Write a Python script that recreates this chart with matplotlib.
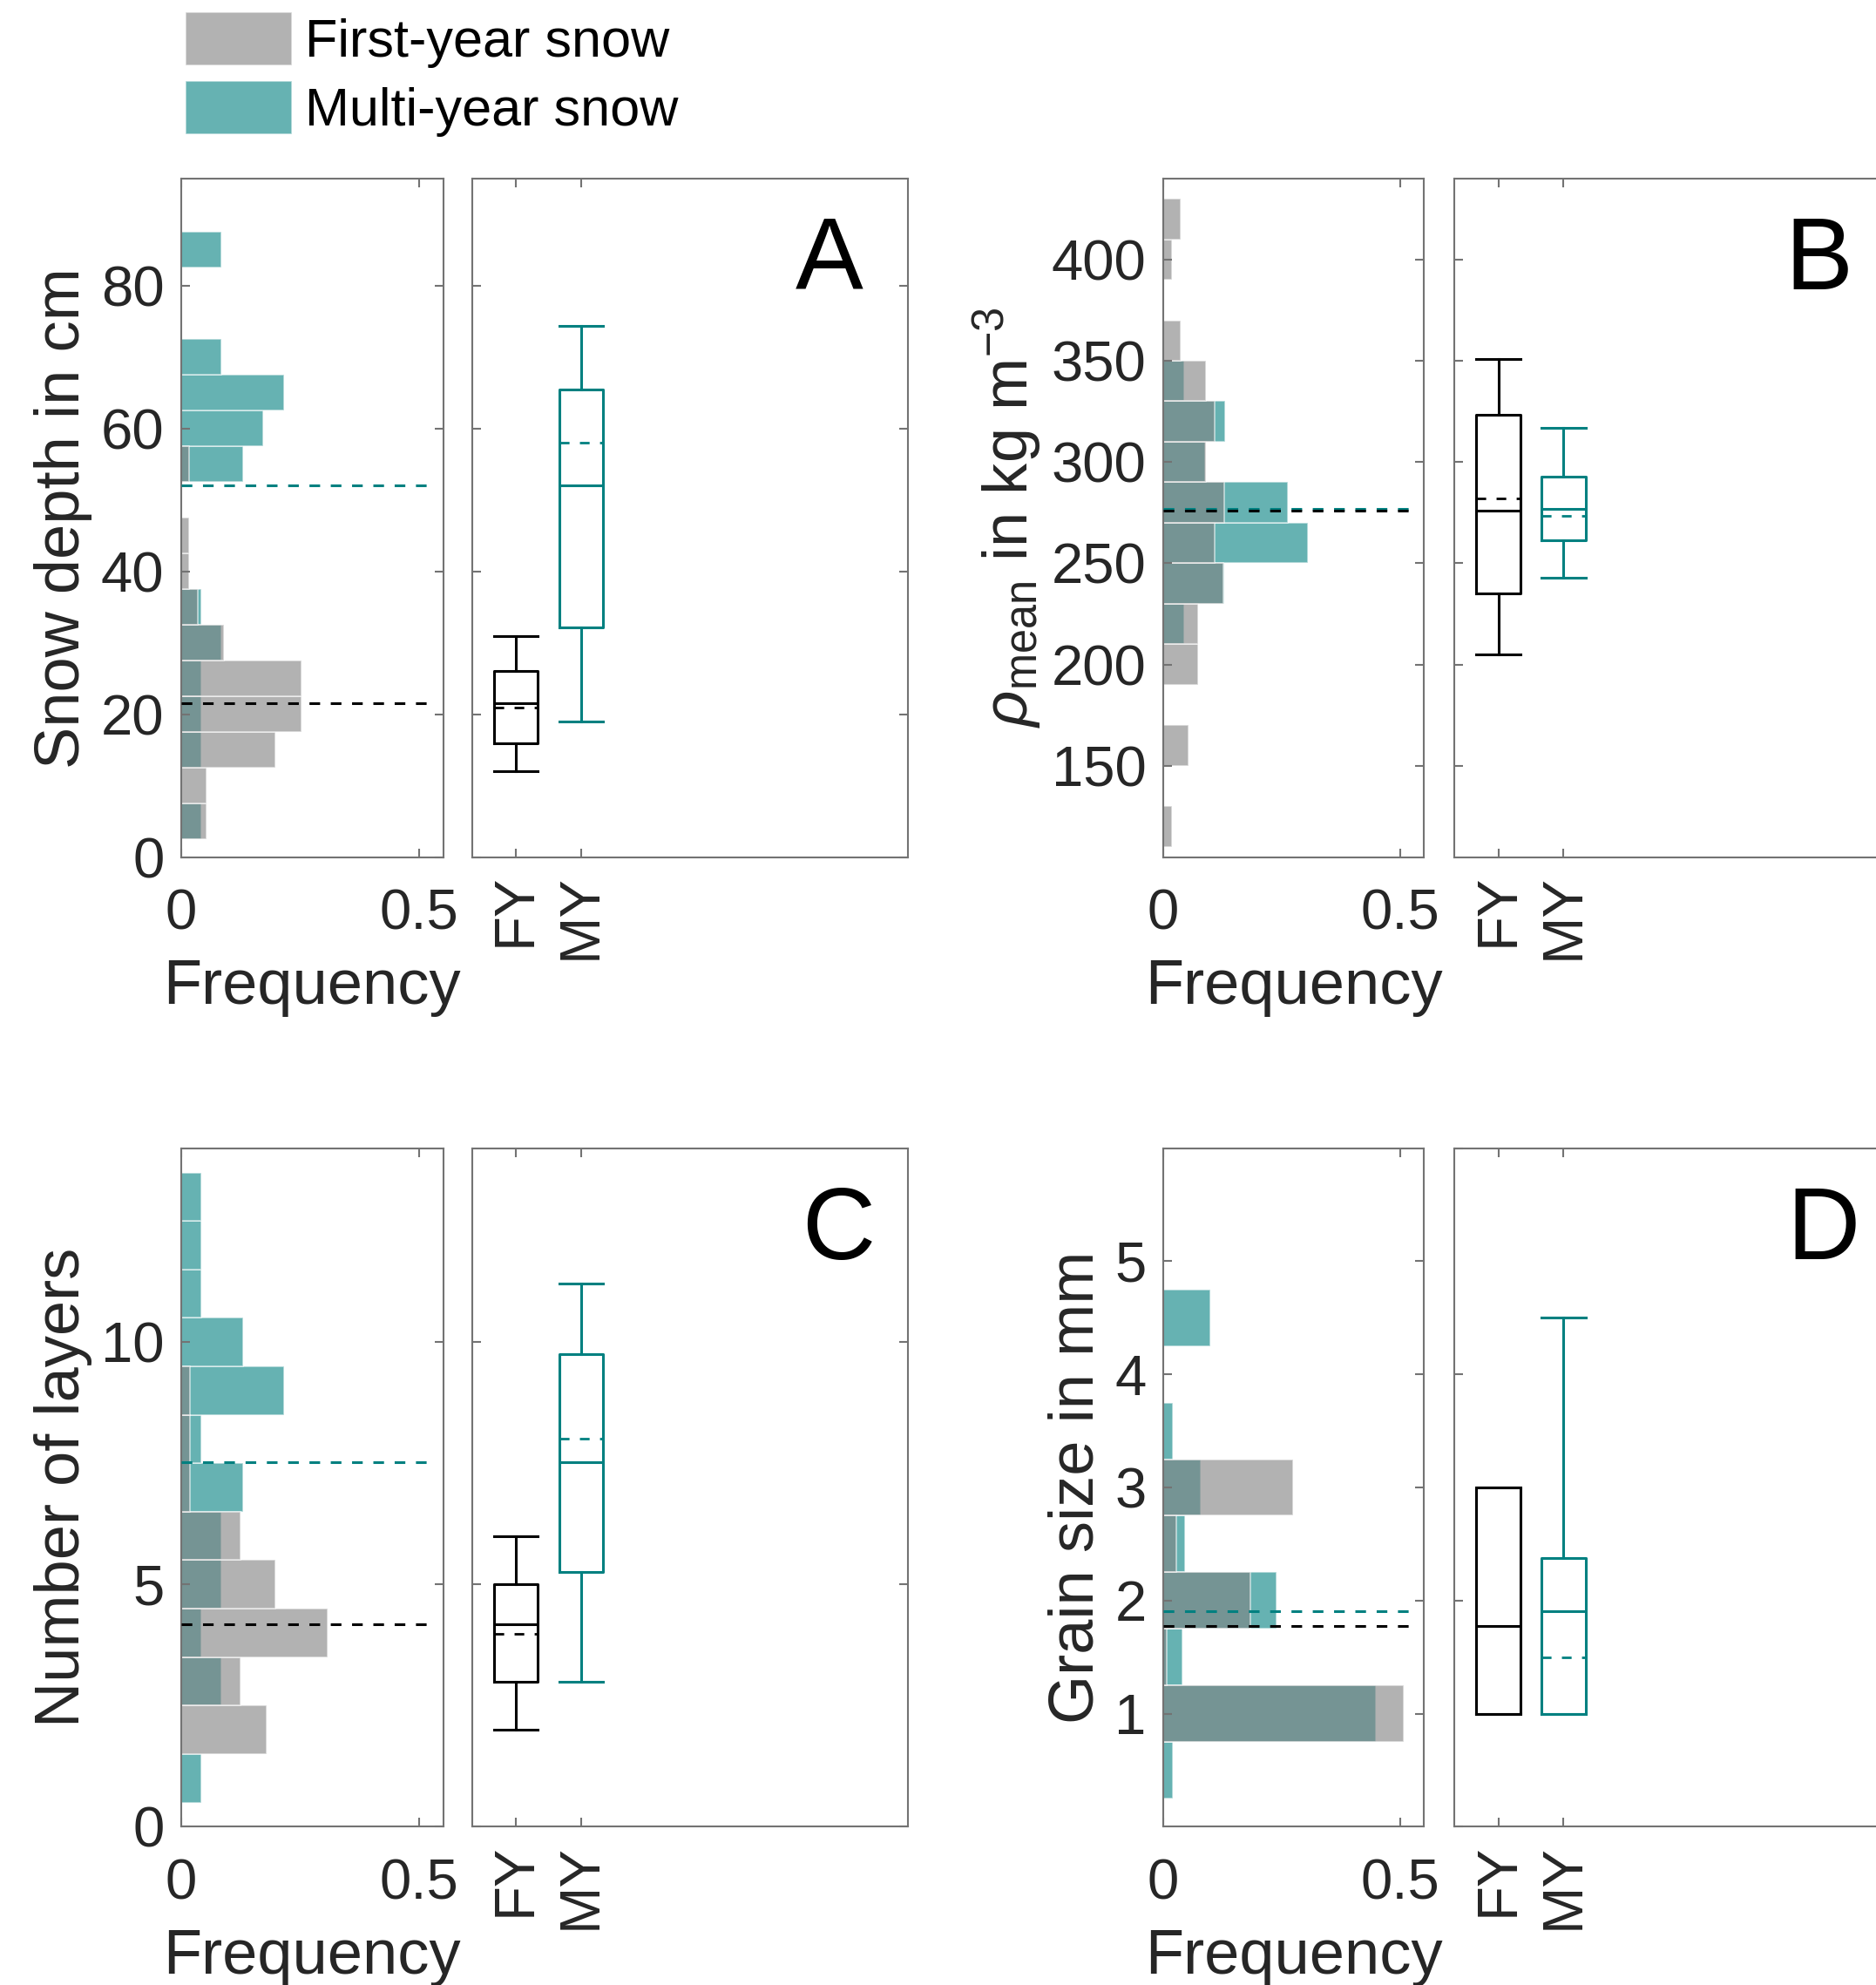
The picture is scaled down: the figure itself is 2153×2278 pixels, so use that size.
import matplotlib
matplotlib.use("Agg")
import matplotlib.pyplot as plt
import numpy as np

plt.rcParams['font.family'] = ['Liberation Sans', 'DejaVu Sans']
plt.rcParams['mathtext.fontset'] = 'custom'
plt.rcParams['mathtext.rm'] = 'Liberation Sans'
plt.rcParams['mathtext.it'] = 'Liberation Sans:italic'

W, H = 2153, 2278
DPI = 100

GRAY = (0.5, 0.5, 0.5)
TEAL = (0.0, 0.5, 0.5)
AX_COL = '0.45'
TXT_COL = '#262626'

# ---------------------------
# histogram data (probability per bin)
# ---------------------------
depth_bins = [5, 10, 15, 20, 25, 30, 35, 40, 45, 50, 55, 60, 65, 70, 75, 80, 85]
depth_fy = [0.054, 0.054, 0.198, 0.252, 0.252, 0.090, 0.035, 0.017, 0.017, 0, 0.017, 0, 0, 0, 0, 0, 0]
depth_my = [0.043, 0, 0.043, 0.043, 0.043, 0.0845, 0.042, 0, 0, 0, 0.13, 0.173, 0.216, 0.0845, 0, 0, 0.0845]

dens_bins = [120, 140, 160, 180, 200, 220, 240, 260, 280, 300, 320, 340, 360, 380, 400, 420]
dens_fy = [0.018, 0, 0.054, 0, 0.0727, 0.0727, 0.127, 0.109, 0.1276, 0.090, 0.109, 0.090, 0.0366, 0, 0.018, 0.0366]
dens_my = [0, 0, 0, 0, 0, 0.0446, 0.128, 0.305, 0.262, 0.088, 0.131, 0.0446, 0, 0, 0, 0]

layer_bins = [1, 2, 3, 4, 5, 6, 7, 8, 9, 10, 11, 12, 13]
layer_fy = [0, 0.179, 0.125, 0.308, 0.198, 0.125, 0.018, 0.018, 0.018, 0, 0, 0, 0]
layer_my = [0.042, 0, 0.0845, 0.042, 0.0845, 0.0845, 0.13, 0.042, 0.216, 0.13, 0.042, 0.042, 0.042]

grain_bins = [0.5, 1.0, 1.5, 2.0, 2.5, 3.0, 3.5, 4.0, 4.5]
grain_fy = [0, 0.507, 0.008, 0.184, 0.0275, 0.273, 0, 0, 0]
grain_my = [0.0195, 0.449, 0.041, 0.238, 0.046, 0.079, 0.0195, 0, 0.0995]

# ---------------------------
# box plot statistics: whislo, q1, median, mean, q3, whishi
# ---------------------------
depth_box_fy = [12.0, 15.9, 21.57, 20.87, 26.0, 30.94]
depth_box_my = [18.95, 32.2, 52.0, 58.0, 65.4, 74.4]
dens_box_fy = [205.1, 235.1, 275.9, 282.1, 323.2, 351.0]
dens_box_my = [242.9, 261.5, 277.0, 273.3, 292.7, 316.9]
layer_box_fy = [2.0, 3.0, 4.18, 3.98, 5.0, 6.0]
layer_box_my = [3.0, 5.25, 7.53, 8.0, 9.75, 11.2]
grain_box_fy = [1.0, 1.0, 1.775, None, 3.0, 3.0]
grain_box_my = [1.0, 1.0, 1.91, 1.50, 2.38, 4.5]

group_labels = ['FY', 'MY']
legend_labels = ['First-year snow', 'Multi-year snow']


def px_axes(fig, left, top, right, bottom):
    return fig.add_axes([left / W, 1 - bottom / H, (right - left) / W, (bottom - top) / H])


def style(ax):
    for s in ax.spines.values():
        s.set_color(AX_COL)
        s.set_linewidth(1.5)
    ax.tick_params(direction='in', length=7, width=1.5, color=AX_COL,
                   labelcolor=TXT_COL, labelsize=47, top=True, right=True)
    ax.tick_params(axis='y', pad=14)
    ax.tick_params(axis='x', pad=26)


def draw_hist(ax, bins, fy, my, binw, med_fy, med_my, ylim, yticks, ylabel):
    bins = np.array(bins)
    fy = np.array(fy)
    my = np.array(my)
    m = my > 0
    b_my = ax.barh(bins[m], my[m], height=binw, color=TEAL, alpha=0.6,
                   edgecolor='white', linewidth=1.2)
    f = fy > 0
    b_fy = ax.barh(bins[f], fy[f], height=binw, color=GRAY, alpha=0.6,
                   edgecolor='white', linewidth=1.2)
    ax.plot([0, 0.53], [med_my, med_my], color=TEAL, lw=2.2, ls=(0, (4, 4)), zorder=5)
    ax.plot([0, 0.53], [med_fy, med_fy], color='black', lw=2.2, ls=(0, (4, 4)), zorder=5)
    ax.set_xlim(0, 0.55)
    ax.set_ylim(*ylim)
    ax.set_xticks([0, 0.5])
    ax.set_xticklabels(['0', '0.5'])
    ax.set_yticks(yticks)
    style(ax)
    ax.set_xlabel('Frequency', fontsize=52, color=TXT_COL, labelpad=15)
    ax.set_ylabel(ylabel, fontsize=52, color=TXT_COL, labelpad=7)
    return b_fy, b_my


def draw_box(ax, pos, vals, color):
    st = dict(whislo=vals[0], q1=vals[1], med=vals[2], q3=vals[4], whishi=vals[5])
    show_mean = vals[3] is not None
    if show_mean:
        st['mean'] = vals[3]
    lp = dict(color=color, linewidth=2.2)
    ax.bxp([st], positions=[pos], widths=0.675, capwidths=0.675,
           showmeans=show_mean, meanline=True, showfliers=False,
           boxprops=lp, whiskerprops=lp, capprops=lp, medianprops=lp,
           meanprops=dict(color=color, linewidth=2.0, linestyle=(0, (4, 4.3))),
           manage_ticks=False)


def draw_boxes(ax, fy, my, ylim, yticks, letter, lx):
    draw_box(ax, 1, fy, 'black')
    draw_box(ax, 2, my, TEAL)
    ax.set_xlim(0.33, 7.0)
    ax.set_ylim(*ylim)
    ax.set_yticks(yticks)
    ax.set_xticks([1, 2])
    ax.set_xticklabels(group_labels, rotation=90)
    style(ax)
    ax.tick_params(axis='x', pad=14)
    ax.tick_params(axis='y', labelleft=False)
    ax.text(lx, 0.837, letter, transform=ax.transAxes, ha='center', va='baseline',
            fontsize=84, color='black')


fig = plt.figure(figsize=(W / DPI, H / DPI), dpi=DPI)

rows = [(204.8, 983.5), (1317.7, 2096.4)]
hist_cols = [(207.7, 508.5), (1335.1, 1634.4)]
box_cols = [(541.9, 1041.7), (1669.3, 2169.1)]

# A: snow depth
axh = px_axes(fig, hist_cols[0][0], rows[0][0], hist_cols[0][1], rows[0][1])
leg_fy, leg_my = draw_hist(axh, depth_bins, depth_fy, depth_my, 5,
                           depth_box_fy[2], depth_box_my[2], (0, 95),
                           [0, 20, 40, 60, 80], 'Snow depth in cm')
axb = px_axes(fig, box_cols[0][0], rows[0][0], box_cols[0][1], rows[0][1])
draw_boxes(axb, depth_box_fy, depth_box_my, (0, 95), [0, 20, 40, 60, 80], 'A', 0.82)

# B: density
axh = px_axes(fig, hist_cols[1][0], rows[0][0], hist_cols[1][1], rows[0][1])
draw_hist(axh, dens_bins, dens_fy, dens_my, 20, dens_box_fy[2], dens_box_my[2],
          (105, 440), [150, 200, 250, 300, 350, 400],
          r'$\rho_{\mathrm{mean}}$ in kg m$^{-3}$')
axb = px_axes(fig, box_cols[1][0], rows[0][0], box_cols[1][1], rows[0][1])
draw_boxes(axb, dens_box_fy, dens_box_my, (105, 440), [150, 200, 250, 300, 350, 400], 'B', 0.837)

# C: number of layers
axh = px_axes(fig, hist_cols[0][0], rows[1][0], hist_cols[0][1], rows[1][1])
draw_hist(axh, layer_bins, layer_fy, layer_my, 1, layer_box_fy[2], layer_box_my[2],
          (0, 14), [0, 5, 10], 'Number of layers')
axb = px_axes(fig, box_cols[0][0], rows[1][0], box_cols[0][1], rows[1][1])
draw_boxes(axb, layer_box_fy, layer_box_my, (0, 14), [0, 5, 10], 'C', 0.84)

# D: grain size
axh = px_axes(fig, hist_cols[1][0], rows[1][0], hist_cols[1][1], rows[1][1])
draw_hist(axh, grain_bins, grain_fy, grain_my, 0.5, grain_box_fy[2], grain_box_my[2],
          (0, 6), [1, 2, 3, 4, 5], 'Grain size in mm')
axb = px_axes(fig, box_cols[1][0], rows[1][0], box_cols[1][1], rows[1][1])
draw_boxes(axb, grain_box_fy, grain_box_my, (0, 6), [0, 2, 4, 6], 'D', 0.846)

fig.legend([leg_fy, leg_my], legend_labels, loc='upper left',
           bbox_to_anchor=(213 / W, 1 - 14 / H), frameon=False, fontsize=44,
           handlelength=2.0, handleheight=1.15, handletextpad=0.25,
           labelspacing=0.25, borderpad=0, borderaxespad=0)

fig.savefig('out.png', dpi=DPI)
